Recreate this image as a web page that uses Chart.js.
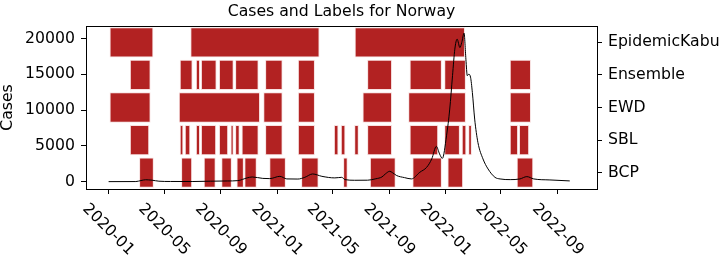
<!DOCTYPE html>
<html>
<head>
<meta charset="utf-8">
<title>Cases and Labels for Norway</title>
<script src="https://cdn.jsdelivr.net/npm/chart.js@4.4.1/dist/chart.umd.min.js"></script>
<style>
  html, body { margin: 0; padding: 0; background: #fff; }
  #wrap { width: 724px; height: 258px; }
</style>
</head>
<body>
<div id="wrap"><canvas id="myChart" width="724" height="258"></canvas></div>
<script>
// rows on the right axis, top to bottom
const rowLabels = ['EpidemicKabu', 'Ensemble', 'EWD', 'SBL', 'BCP'];

// labelled periods per method [start, end]
const epidemicKabuPeriods = [
  ['2020-01-04', '2020-04-08'], ['2020-06-27', '2021-04-03'], ['2021-06-18', '2022-02-12']
];
const ensemblePeriods = [
  ['2020-02-17', '2020-04-02'], ['2020-06-04', '2020-07-02'], ['2020-07-09', '2020-07-18'],
  ['2020-07-20', '2020-08-23'], ['2020-08-28', '2020-09-29'], ['2020-10-02', '2020-11-22'],
  ['2020-12-06', '2021-01-13'], ['2021-02-15', '2021-03-24'], ['2021-07-15', '2021-09-07'],
  ['2021-10-15', '2021-12-24'], ['2021-12-29', '2022-02-14'], ['2022-05-20', '2022-07-05']
];
const ewdPeriods = [
  ['2020-01-04', '2020-04-02'], ['2020-06-02', '2020-11-25'], ['2020-12-02', '2021-01-13'],
  ['2021-02-15', '2021-03-24'], ['2021-07-05', '2021-09-07'], ['2021-10-12', '2022-02-14'],
  ['2022-05-20', '2022-07-05']
];
const sblPeriods = [
  ['2020-02-17', '2020-03-30'], ['2020-06-04', '2020-06-12'], ['2020-06-15', '2020-06-27'],
  ['2020-07-09', '2020-07-18'], ['2020-07-20', '2020-08-22'], ['2020-08-28', '2020-09-17'],
  ['2020-09-22', '2020-09-29'], ['2020-10-02', '2020-10-12'], ['2020-10-16', '2020-11-22'],
  ['2020-12-06', '2021-01-13'], ['2021-02-15', '2021-03-24'], ['2021-05-04', '2021-05-14'],
  ['2021-05-19', '2021-05-29'], ['2021-06-17', '2021-06-27'], ['2021-07-15', '2021-09-07'],
  ['2021-10-15', '2021-12-16'], ['2021-12-29', '2022-02-01'], ['2022-02-05', '2022-02-15'],
  ['2022-02-19', '2022-02-27'], ['2022-05-20', '2022-06-07'], ['2022-06-09', '2022-07-01']
];
const bcpPeriods = [
  ['2020-03-08', '2020-04-09'], ['2020-06-07', '2020-07-01'], ['2020-07-26', '2020-08-21'],
  ['2020-09-02', '2020-09-25'], ['2020-10-05', '2020-10-21'], ['2020-10-22', '2020-11-18'],
  ['2020-12-15', '2021-01-20'], ['2021-02-22', '2021-04-01'], ['2021-05-24', '2021-06-03'],
  ['2021-07-21', '2021-09-15'], ['2021-10-21', '2021-12-24'], ['2022-01-05', '2022-02-08'],
  ['2022-06-04', '2022-07-10']
];

// cases line
const caseDates = [
  '2020-01-02', '2020-03-01', '2020-03-12', '2020-03-22', '2020-04-05', '2020-04-20',
  '2020-05-15', '2020-07-01', '2020-08-10', '2020-09-15', '2020-10-08', '2020-10-28',
  '2020-11-08', '2020-12-01', '2020-12-16', '2021-01-07', '2021-01-22', '2021-02-15',
  '2021-03-02', '2021-03-19', '2021-04-08', '2021-05-06', '2021-05-21', '2021-05-28',
  '2021-06-18', '2021-07-16', '2021-08-03', '2021-08-16', '2021-08-24', '2021-09-02',
  '2021-09-08', '2021-09-17', '2021-10-04', '2021-10-19', '2021-11-06', '2021-11-21',
  '2021-12-02', '2021-12-12', '2021-12-19', '2021-12-25', '2022-01-03', '2022-01-10',
  '2022-01-16', '2022-01-21', '2022-01-26', '2022-02-01', '2022-02-05', '2022-02-10',
  '2022-02-14', '2022-02-17', '2022-02-20', '2022-02-24', '2022-02-28', '2022-03-05',
  '2022-03-12', '2022-03-23', '2022-04-03', '2022-04-18', '2022-04-29', '2022-05-21',
  '2022-06-11', '2022-06-26', '2022-07-11', '2022-08-15', '2022-09-27'
];
const caseValues = [
  0, 10, 150, 260, 200, 60,
  20, 15, 60, 90, 140, 520,
  650, 450, 420, 740, 380, 360,
  600, 1070, 740, 520, 600, 280,
  190, 200, 400, 650, 1100, 1440,
  1250, 850, 560, 380, 1300, 2000,
  3170, 4920, 3860, 3250, 6400, 10140,
  14800, 18500, 19900, 18730, 19430, 20740,
  17100, 14800, 15000, 14600, 12450, 8740,
  5480, 3170, 1770, 600, 375, 280,
  375, 700, 375, 235, 100
];

const xTickLabels = ['2020-01', '2020-05', '2020-09', '2021-01', '2021-05', '2021-09', '2022-01', '2022-05', '2022-09'];
const yTicks = [0, 5000, 10000, 15000, 20000];

const FONT = 'DejaVu Sans';
const FSIZE = 15.7;
Chart.defaults.font.family = FONT;
Chart.defaults.font.size = FSIZE;
Chart.defaults.color = '#000';

function toMs(s) { return Date.parse(s); }

let periodBars = [];
[epidemicKabuPeriods, ensemblePeriods, ewdPeriods, sblPeriods, bcpPeriods].forEach(function (list, r) {
  list.forEach(function (p) {
    periodBars.push({ y: rowLabels[r], x: [toMs(p[0]), toMs(p[1])] });
  });
});

let casePoints = caseDates.map(function (d, i) { return { x: toMs(d), y: caseValues[i] }; });

// rotated date labels and the axes frame, drawn like matplotlib
const framePlugin = {
  id: 'framePlugin',
  afterDraw(chart) {
    const ctx = chart.ctx;
    const area = chart.chartArea;
    const xs = chart.scales.x;
    ctx.save();
    ctx.font = FSIZE + 'px "' + FONT + '"';
    ctx.fillStyle = '#000';
    ctx.textAlign = 'center';
    ctx.textBaseline = 'middle';
    xs.ticks.forEach(function (t, i) {
      const label = xTickLabels[i];
      const px = xs.getPixelForValue(t.value);
      const w = ctx.measureText(label).width;
      const half = (w + 18.3) * Math.SQRT1_2 / 2;
      ctx.save();
      ctx.translate(px, area.bottom + 11 + half);
      ctx.rotate(Math.PI / 4);
      ctx.fillText(label, 0, 0);
      ctx.restore();
    });
    ctx.strokeStyle = '#000';
    ctx.lineWidth = 1;
    ctx.strokeRect(Math.round(area.left) + 0.5, Math.round(area.top) + 0.5,
      Math.round(area.right) - Math.round(area.left), Math.round(area.bottom) - Math.round(area.top));
    ctx.restore();
  }
};

const tickGrid = { display: true, drawOnChartArea: false, drawTicks: true, tickLength: 5, color: '#000', lineWidth: 1 };

window.ctx = new Chart(document.getElementById('myChart'), {
  type: 'line',
  data: {
    datasets: [{
      type: 'line',
      label: 'Cases',
      data: casePoints,
      xAxisID: 'x',
      yAxisID: 'y',
      borderColor: '#000',
      borderWidth: 1,
      pointRadius: 0,
      cubicInterpolationMode: 'monotone',
      order: 0
    }, {
      type: 'bar',
      label: 'Labels',
      data: periodBars,
      indexAxis: 'y',
      xAxisID: 'x',
      yAxisID: 'yc',
      backgroundColor: '#b22222',
      borderColor: '#f7e1e1',
      borderWidth: 1,
      borderSkipped: false,
      categoryPercentage: 1,
      barPercentage: 0.93,
      grouped: false,
      order: 1
    }]
  },
  options: {
    responsive: false,
    devicePixelRatio: 1,
    animation: false,
    events: [],
    layout: { padding: 0 },
    plugins: {
      legend: { display: false },
      tooltip: { enabled: false },
      title: {
        display: true,
        text: 'Cases and Labels for Norway',
        fullSize: false,
        color: '#000',
        font: { size: FSIZE, weight: 'normal', lineHeight: 1.2 },
        padding: { top: 3, bottom: 4.16 }
      }
    },
    scales: {
      x: {
        type: 'linear',
        position: 'bottom',
        min: toMs('2019-11-14'),
        max: toMs('2022-11-25'),
        offset: false,
        grid: tickGrid,
        border: { display: false },
        ticks: { display: false, autoSkip: false },
        afterBuildTicks: function (s) {
          s.ticks = xTickLabels.map(function (l) { return { value: toMs(l + '-01') }; });
        },
        afterFit: function (s) {
          s.height = 69;
          s.paddingLeft = 0; s.paddingRight = 0;
        }
      },
      y: {
        type: 'linear',
        position: 'left',
        min: -1030,
        max: 21740,
        grid: tickGrid,
        border: { display: false },
        title: {
          display: true,
          text: 'Cases',
          color: '#000',
          font: { size: FSIZE, lineHeight: 1 },
          padding: { top: 0, bottom: 0 }
        },
        ticks: {
          autoSkip: false,
          padding: 6,
          color: '#000',
          callback: function (v) { return String(v); }
        },
        afterBuildTicks: function (s) {
          s.ticks = yTicks.map(function (v) { return { value: v }; });
        },
        afterFit: function (s) {
          s.width = 86;
          s.paddingTop = 0; s.paddingBottom = 0;
        }
      },
      yc: {
        type: 'category',
        position: 'right',
        labels: rowLabels,
        offset: true,
        grid: Object.assign({}, tickGrid, { offset: false }),
        border: { display: false },
        ticks: { autoSkip: false, padding: 6, color: '#000' },
        afterFit: function (s) {
          s.width = 127;
          s.paddingTop = 0; s.paddingBottom = 0;
        }
      }
    }
  },
  plugins: [framePlugin]
});
</script>
</body>
</html>
